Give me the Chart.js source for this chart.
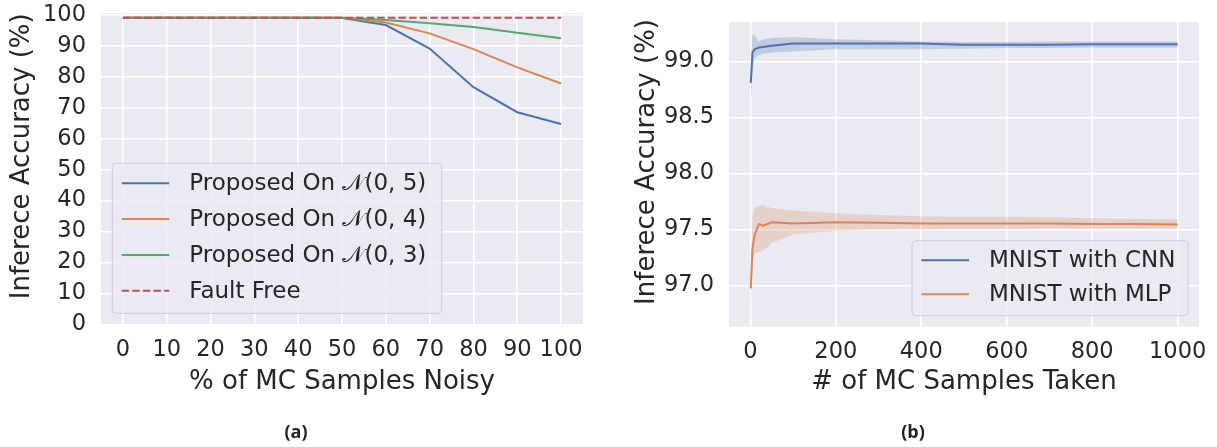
<!DOCTYPE html>
<html>
<head>
<meta charset="utf-8">
<script src="https://cdn.jsdelivr.net/npm/chart.js@4"></script>
<style>
  body { margin: 0; background: #ffffff; }
  #wrap { position: relative; width: 1217px; height: 447px; }
  canvas { position: absolute; top: 0; }
  .cap { position: absolute; top: 419px; width: 60px; margin-left: -30px; text-align: center;
         font: 700 18px 'Open Sans', sans-serif; color: #222; }
</style>
</head>
<body>
<div id="wrap">
  <canvas id="noisyChart" width="600" height="447" style="left:0"></canvas>
  <canvas id="samplesChart" width="607" height="447" style="left:610px"></canvas>
  <div class="cap" style="left:296px">(a)</div>
  <div class="cap" style="left:913px">(b)</div>
</div>
<script>
// seaborn "deep" colours
const blue = '#4c72b0';
const orange = '#dd8452';
const green = '#55a868';
const red = '#c44e52';
const textColor = '#262626';
const panelBg = '#eaeaf2';

// (a) % of MC samples noisy
const noisyPct = [0, 10, 20, 30, 40, 50, 60, 70, 80, 90, 100];
const accSigma5 = [99.15, 99.15, 99.15, 99.15, 99.15, 99.1, 96.8, 89.2, 76.7, 68.6, 64.8];
const accSigma4 = [99.15, 99.15, 99.15, 99.15, 99.15, 99.15, 97.6, 94.1, 89.0, 83.1, 77.9];
const accSigma3 = [99.15, 99.15, 99.15, 99.15, 99.15, 99.15, 98.4, 97.4, 96.2, 94.3, 92.5];
const accFaultFree = [99.15, 99.15, 99.15, 99.15, 99.15, 99.15, 99.15, 99.15, 99.15, 99.15, 99.15];
const accTicksA = [0, 10, 20, 30, 40, 50, 60, 70, 80, 90, 100];

// (b) # of MC samples taken
const mcSamples = [1, 5, 10, 20, 30, 50, 100, 200, 300, 400, 500, 600, 700, 800, 900, 1000];
const cnnMean = [98.81, 99.08, 99.11, 99.125, 99.13, 99.14, 99.16, 99.16, 99.16, 99.16, 99.15, 99.15, 99.15, 99.155, 99.155, 99.155];
const cnnLow = [98.60, 98.93, 99.03, 99.06, 99.07, 99.08, 99.09, 99.11, 99.11, 99.11, 99.115, 99.12, 99.12, 99.125, 99.125, 99.125];
const cnnHigh = [99.00, 99.24, 99.235, 99.18, 99.20, 99.21, 99.22, 99.20, 99.19, 99.18, 99.175, 99.175, 99.178, 99.18, 99.18, 99.18];
const mlpMean = [96.975, 97.33, 97.45, 97.55, 97.535, 97.565, 97.555, 97.565, 97.56, 97.555, 97.555, 97.555, 97.555, 97.55, 97.55, 97.545];
const mlpLow = [96.75, 97.20, 97.29, 97.30, 97.31, 97.38, 97.455, 97.49, 97.50, 97.50, 97.505, 97.505, 97.51, 97.51, 97.51, 97.51];
const mlpHigh = [97.15, 97.62, 97.69, 97.71, 97.72, 97.69, 97.67, 97.645, 97.63, 97.62, 97.615, 97.615, 97.61, 97.60, 97.595, 97.59];
const sampleTicks = [0, 200, 400, 600, 800, 1000];
const accTicksB = [97.0, 97.5, 98.0, 98.5, 99.0];

Chart.defaults.font.family = "'DejaVu Sans', sans-serif";
Chart.defaults.color = textColor;

const pts = (xs, ys) => xs.map((x, i) => ({ x: x, y: ys[i] }));

// matplotlib-style legend box drawn inside the plot
const boxLegend = {
  id: 'boxLegend',
  afterDraw(chart, args, opts) {
    const ctx = chart.ctx;
    const items = chart.data.datasets.filter(d => d.label);
    ctx.save();
    ctx.beginPath();
    ctx.roundRect(opts.x, opts.y, opts.w, opts.h, 4);
    ctx.fillStyle = 'rgba(234, 234, 242, 0.8)';
    ctx.fill();
    ctx.strokeStyle = '#cdcdd2';
    ctx.lineWidth = 1;
    ctx.stroke();
    ctx.font = '23px "DejaVu Sans"';
    ctx.textBaseline = 'middle';
    items.forEach((d, i) => {
      const y = opts.y + opts.first + i * opts.gap;
      ctx.beginPath();
      ctx.setLineDash(d.borderDash || []);
      ctx.strokeStyle = d.borderColor;
      ctx.lineWidth = 2;
      ctx.moveTo(opts.x + 9.4, y);
      ctx.lineTo(opts.x + 57, y);
      ctx.stroke();
      ctx.setLineDash([]);
      ctx.fillStyle = textColor;
      ctx.fillText(d.label, opts.x + 77, y + 1);
    });
    ctx.restore();
  }
};

const noPad = s => { s.paddingTop = 0; s.paddingBottom = 0; s.paddingLeft = 0; s.paddingRight = 0; };

function axes(xMin, xMax, xTicks, xTitle, xHeight, yMin, yMax, yTicks, yWidth, yFmt) {
  const grid = { color: '#ffffff', lineWidth: 1.6, drawTicks: false };
  return {
    x: {
      type: 'linear', min: xMin, max: xMax,
      grid: grid, border: { display: false },
      afterBuildTicks: s => { s.ticks = xTicks.map(v => ({ value: v })); },
      afterFit: s => { s.height = xHeight; noPad(s); },
      ticks: { padding: 12, font: { size: 22.5 }, maxRotation: 0, autoSkip: false, callback: v => String(v) },
      title: { display: true, text: xTitle, font: { size: 26 }, padding: 0 }
    },
    y: {
      type: 'linear', min: yMin, max: yMax,
      grid: grid, border: { display: false },
      afterBuildTicks: s => { s.ticks = yTicks.map(v => ({ value: v })); },
      afterFit: s => { s.width = yWidth; noPad(s); },
      ticks: { padding: 15, font: { size: 22.5 }, callback: yFmt },
      // leading spaces lift the rotated label a little above the axis centre, as in the original
      title: { display: true, text: '   Inferece Accuracy (%)', font: { size: 26 }, padding: 0 }
    }
  };
}

const panelBackground = {
  id: 'panelBackground',
  beforeDraw(chart) {
    const a = chart.chartArea;
    chart.ctx.save();
    chart.ctx.fillStyle = panelBg;
    chart.ctx.fillRect(a.left, a.top, a.right - a.left, a.bottom - a.top);
    chart.ctx.restore();
  }
};

const line = (label, ys, xs, color, extra) => Object.assign({
  label: label, data: pts(xs, ys), borderColor: color, backgroundColor: color,
  borderWidth: 2, pointRadius: 0, tension: 0, fill: false
}, extra || {});

// (a)
new Chart(document.getElementById('noisyChart'), {
  type: 'line',
  data: {
    datasets: [
      line('Proposed On 𝒩(0, 5)', accSigma5, noisyPct, blue, { order: 3 }),
      line('Proposed On 𝒩(0, 4)', accSigma4, noisyPct, orange, { order: 2 }),
      line('Proposed On 𝒩(0, 3)', accSigma3, noisyPct, green, { order: 1 }),
      line('Fault Free', accFaultFree, noisyPct, red, { order: 0, borderDash: [7.4, 3.2] })
    ]
  },
  options: {
    responsive: false, animation: false,
    layout: { padding: { left: 7, top: 13, right: 17, bottom: 49 } },
    plugins: {
      legend: { display: false }, tooltip: { enabled: false },
      boxLegend: { x: 112.3, y: 163.3, w: 329.4, h: 150, first: 20, gap: 35.8 }
    },
    scales: axes(-5, 105, noisyPct, '% of MC Samples Noisy', 73.7, 0, 100.7, accTicksA, 94, v => v)
  },
  plugins: [panelBackground, boxLegend]
});

// (b)
const band = (ys, color, fill) => ({
  data: pts(mcSamples, ys), borderWidth: 0, pointRadius: 0, tension: 0,
  backgroundColor: color, fill: fill
});

new Chart(document.getElementById('samplesChart'), {
  type: 'line',
  data: {
    datasets: [
      band(cnnLow, 'rgba(76, 114, 176, 0.25)', false),
      band(cnnHigh, 'rgba(76, 114, 176, 0.25)', '-1'),
      line('MNIST with CNN', cnnMean, mcSamples, blue),
      band(mlpLow, 'rgba(221, 132, 82, 0.25)', false),
      band(mlpHigh, 'rgba(221, 132, 82, 0.25)', '-1'),
      line('MNIST with MLP', mlpMean, mcSamples, orange)
    ]
  },
  options: {
    responsive: false, animation: false,
    layout: { padding: { left: 22, top: 22, right: 18, bottom: 49 } },
    plugins: {
      legend: { display: false }, tooltip: { enabled: false },
      boxLegend: { x: 302, y: 240.7, w: 276, h: 75, first: 19.5, gap: 34 }
    },
    scales: axes(-50, 1050, sampleTicks, '# of MC Samples Taken', 71.3, 96.633, 99.353, accTicksB, 97, v => v.toFixed(1))
  },
  plugins: [panelBackground, boxLegend]
});
</script>
</body>
</html>
